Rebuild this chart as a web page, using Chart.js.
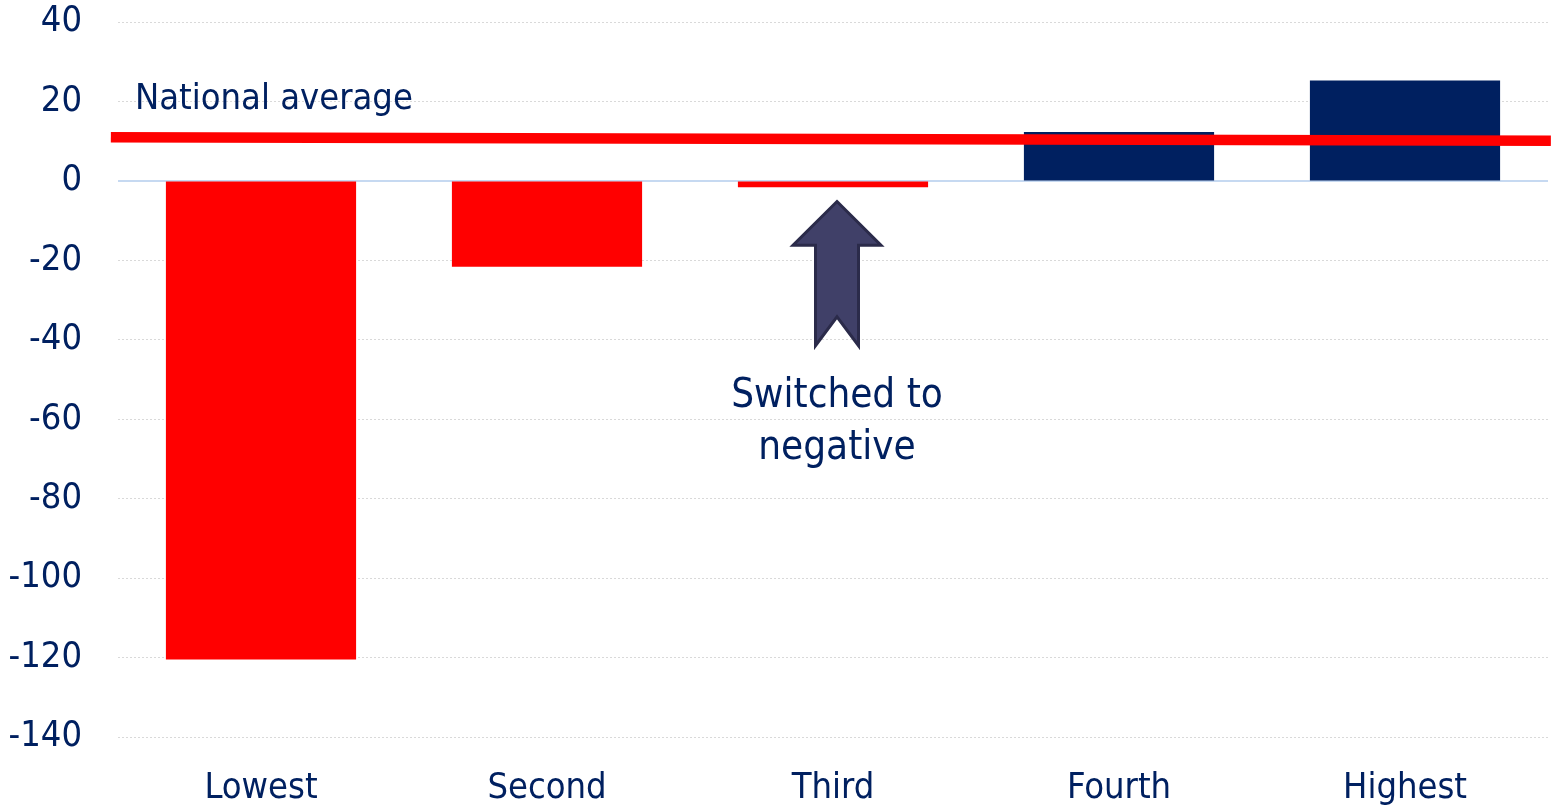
<!DOCTYPE html>
<html>
<head>
<meta charset="utf-8">
<script src="https://cdn.jsdelivr.net/npm/chart.js@4"></script>
<style>
  html, body { margin: 0; padding: 0; background: #ffffff; }
  #wrap { position: relative; width: 1551px; height: 810px; }
</style>
</head>
<body>
<div id="wrap"><canvas id="chart"></canvas></div>
<script>
// Income quintiles and their change
const categories = ['Lowest', 'Second', 'Third', 'Fourth', 'Highest'];
const changeValues = [-120.5, -21.6, -1.6, 12.3, 25.3];
// National average line: value at the left end and at the right end
const nationalAverage = [11.0, 10.1];
const yTicks = [40, 20, 0, -20, -40, -60, -80, -100, -120, -140];

const RED = '#FF0000';
const NAVY = '#002060';
const TEXT = '#002060';
const FONT = '"DejaVu Sans Condensed", "DejaVu Sans", sans-serif';

// Zero line and annotation (arrow + captions)
const decorations = {
  id: 'decorations',
  beforeDatasetsDraw(chart) {
    const { ctx, chartArea, scales } = chart;
    const y0 = scales.y.getPixelForValue(0);
    ctx.save();
    ctx.strokeStyle = '#C6D9F1';
    ctx.lineWidth = 2;
    ctx.beginPath();
    ctx.moveTo(chartArea.left, y0);
    ctx.lineTo(chartArea.right, y0);
    ctx.stroke();
    ctx.restore();
  },
  afterDatasetsDraw(chart) {
    const { ctx, chartArea, scales } = chart;
    const x = scales.x.getPixelForValue(2) + 4;
    const yTip = scales.y.getPixelForValue(-5.2);
    const yHead = scales.y.getPixelForValue(-16.2);
    const yBase = scales.y.getPixelForValue(-41.5);
    const yNotch = scales.y.getPixelForValue(-34.2);
    const headHalf = 44, shaftHalf = 21.5;
    ctx.save();
    ctx.beginPath();
    ctx.moveTo(x, yTip);
    ctx.lineTo(x + headHalf, yHead);
    ctx.lineTo(x + shaftHalf, yHead);
    ctx.lineTo(x + shaftHalf, yBase);
    ctx.lineTo(x, yNotch);
    ctx.lineTo(x - shaftHalf, yBase);
    ctx.lineTo(x - shaftHalf, yHead);
    ctx.lineTo(x - headHalf, yHead);
    ctx.closePath();
    ctx.fillStyle = '#404068';
    ctx.fill();
    ctx.lineJoin = 'miter';
    ctx.lineWidth = 3;
    ctx.strokeStyle = '#2B2B4A';
    ctx.stroke();

    ctx.fillStyle = TEXT;
    ctx.textBaseline = 'alphabetic';
    ctx.font = '40px ' + FONT;
    ctx.textAlign = 'center';
    ctx.fillText('Switched to', x, yBase + 61);
    ctx.fillText('negative', x, yBase + 113);

    ctx.font = '36px ' + FONT;
    ctx.textAlign = 'left';
    ctx.fillText('National average', chartArea.left + 17, scales.y.getPixelForValue(18.2));
    ctx.restore();
  }
};

new Chart(document.getElementById('chart'), {
  data: {
    labels: categories,
    datasets: [
      {
        type: 'bar',
        data: changeValues,
        backgroundColor: changeValues.map(v => v < 0 ? RED : NAVY),
        borderWidth: 0,
        grouped: false,
        categoryPercentage: 1,
        barPercentage: 0.665,
        xAxisID: 'x',
        order: 2
      },
      {
        type: 'line',
        data: [
          { x: -0.005, y: nationalAverage[0] },
          { x: 1.002, y: nationalAverage[1] }
        ],
        xAxisID: 'xl',
        borderColor: RED,
        borderWidth: 10.5,
        pointRadius: 0,
        tension: 0,
        clip: false,
        order: 1
      }
    ]
  },
  options: {
    responsive: true,
    maintainAspectRatio: false,
    animation: false,
    devicePixelRatio: 1,
    layout: { padding: { top: 22, right: 3, left: 0, bottom: 0 } },
    plugins: { legend: { display: false }, tooltip: { enabled: false } },
    scales: {
      x: {
        type: 'category',
        grid: { display: false, drawTicks: false },
        border: { display: false },
        ticks: { color: TEXT, font: { family: FONT, size: 36 }, padding: 30, maxRotation: 0 },
        afterFit(scale) { scale.height = 73; scale.paddingLeft = 0; scale.paddingRight = 0; }
      },
      xl: {
        type: 'linear',
        display: false,
        min: 0,
        max: 1
      },
      y: {
        min: -140,
        max: 40,
        afterBuildTicks(scale) { scale.ticks = yTicks.map(v => ({ value: v })); },
        grid: { color: '#D9D9D9', lineWidth: 1, drawTicks: false },
        border: { display: false, dash: [2, 2] },
        ticks: { color: TEXT, font: { family: FONT, size: 36 }, padding: 36 },
        afterFit(scale) { scale.width = 118; scale.paddingTop = 0; scale.paddingBottom = 0; }
      }
    }
  },
  plugins: [decorations]
});
</script>
</body>
</html>
